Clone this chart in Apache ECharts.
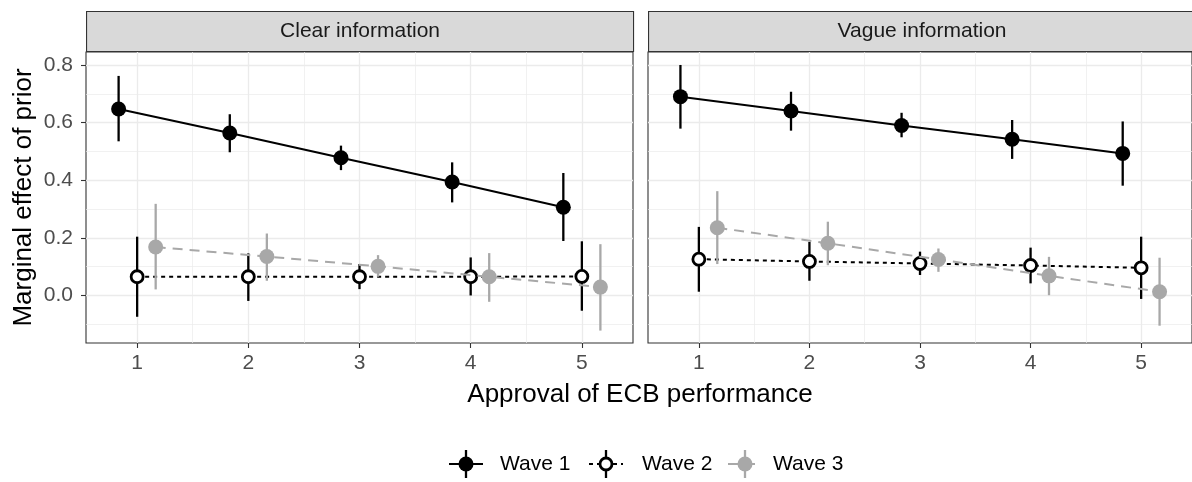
<!DOCTYPE html>
<html>
<head>
<meta charset="utf-8">
<script src="https://cdn.jsdelivr.net/npm/echarts@6/dist/echarts.min.js"></script>
<style>
  html, body { margin: 0; padding: 0; background: #fff; }
  #chart { width: 1192px; height: 482px; }
</style>
</head>
<body>
<div id="chart"></div>
<script>
// categories
const approval = [1, 2, 3, 4, 5]
const waves = ['Wave 1', 'Wave 2', 'Wave 3']
const panels = ['Clear information', 'Vague information']
const yTicks = [0, 0.2, 0.4, 0.6, 0.8]
const yMinorTicks = [-0.1, 0.1, 0.3, 0.5, 0.7]
const xMinorTicks = [1.5, 2.5, 3.5, 4.5]

// Clear information
const clearW1 = [0.647, 0.564, 0.478, 0.394, 0.306]
const clearW1Lo = [0.535, 0.497, 0.435, 0.323, 0.189]
const clearW1Hi = [0.762, 0.629, 0.520, 0.462, 0.425]
const clearW2 = [0.065, 0.065, 0.065, 0.065, 0.066]
const clearW2Lo = [-0.074, -0.019, 0.022, 0.000, -0.053]
const clearW2Hi = [0.204, 0.146, 0.109, 0.132, 0.188]
const clearW3 = [0.168, 0.135, 0.101, 0.065, 0.029]
const clearW3Lo = [0.021, 0.051, 0.065, -0.022, -0.122]
const clearW3Hi = [0.318, 0.215, 0.140, 0.147, 0.178]

// Vague information
const vagueW1 = [0.690, 0.640, 0.590, 0.542, 0.493]
const vagueW1Lo = [0.579, 0.572, 0.549, 0.474, 0.381]
const vagueW1Hi = [0.800, 0.707, 0.634, 0.609, 0.604]
const vagueW2 = [0.126, 0.118, 0.111, 0.104, 0.096]
const vagueW2Lo = [0.013, 0.051, 0.071, 0.042, -0.012]
const vagueW2Hi = [0.238, 0.186, 0.152, 0.166, 0.204]
const vagueW3 = [0.235, 0.181, 0.125, 0.068, 0.013]
const vagueW3Lo = [0.109, 0.105, 0.082, 0.001, -0.105]
const vagueW3Hi = [0.362, 0.256, 0.163, 0.134, 0.131]

const panelData = [
  [[clearW1, clearW1Lo, clearW1Hi], [clearW2, clearW2Lo, clearW2Hi], [clearW3, clearW3Lo, clearW3Hi]],
  [[vagueW1, vagueW1Lo, vagueW1Hi], [vagueW2, vagueW2Lo, vagueW2Hi], [vagueW3, vagueW3Lo, vagueW3Hi]]
]

const FONT = '"Liberation Sans", Arial, sans-serif'
const dodge = [-1 / 6, 0, 1 / 6]
const waveStyle = [
  { color: '#000', fill: '#000', size: 15, border: 0, line: 'solid', width: 2 },
  { color: '#000', fill: '#fff', size: 12, border: 2.8, line: [4, 4], width: 2 },
  { color: '#a8a8a8', fill: '#a8a8a8', size: 15, border: 0, line: [10, 7], width: 2 }
]
const gridPos = [
  { left: 86, top: 52, width: 547, height: 291 },
  { left: 648, top: 52, width: 547, height: 291 }
]
const X_MIN = 0.54
const X_MAX = 5.46
const Y_MIN = -0.165
const Y_MAX = 0.845

const chart = echarts.init(document.getElementById('chart'))

const grid = gridPos.map((g) => ({
  ...g,
  show: true,
  backgroundColor: '#fff',
  borderColor: '#333',
  borderWidth: 1.1,
  containLabel: false
}))

const xAxis = []
const yAxis = []
gridPos.forEach((g, gi) => {
  xAxis.push({
    gridIndex: gi,
    type: 'value',
    position: 'bottom',
    min: X_MIN,
    max: X_MAX,
    axisLine: { show: false, onZero: false },
    axisTick: { show: true, customValues: approval, length: 5, lineStyle: { color: '#333', width: 1.1 } },
    axisLabel: { customValues: approval, color: '#4d4d4d', fontSize: 21, fontFamily: FONT, margin: 10 },
    splitLine: { show: true, lineStyle: { color: '#ebebeb', width: 1.3 } }
  })
  xAxis.push({
    gridIndex: gi,
    type: 'value',
    position: 'bottom',
    min: X_MIN,
    max: X_MAX,
    axisLine: { show: false, onZero: false },
    axisTick: { show: false, customValues: xMinorTicks },
    axisLabel: { show: false },
    splitLine: { show: true, lineStyle: { color: '#ebebeb', width: 0.7 } }
  })
  yAxis.push({
    gridIndex: gi,
    type: 'value',
    position: 'left',
    min: Y_MIN,
    max: Y_MAX,
    axisLine: { show: false, onZero: false },
    axisTick: { show: gi === 0, customValues: yTicks, length: 5, lineStyle: { color: '#333', width: 1.1 } },
    axisLabel: {
      show: gi === 0,
      customValues: yTicks,
      formatter: (v) => v.toFixed(1),
      color: '#4d4d4d',
      fontSize: 21,
      fontFamily: FONT,
      margin: 13
    },
    splitLine: { show: true, lineStyle: { color: '#ebebeb', width: 1.3 } },
    name: gi === 0 ? 'Marginal effect of prior' : '',
    nameLocation: 'middle',
    nameRotate: 90,
    nameGap: 49,
    nameTextStyle: { color: '#000', fontSize: 26, fontFamily: FONT }
  })
  yAxis.push({
    gridIndex: gi,
    type: 'value',
    position: 'left',
    min: Y_MIN,
    max: Y_MAX,
    axisLine: { show: false, onZero: false },
    axisTick: { show: false, customValues: yMinorTicks },
    axisLabel: { show: false },
    splitLine: { show: true, lineStyle: { color: '#ebebeb', width: 0.7 } }
  })
})

const series = []
panelData.forEach((waveSets, gi) => {
  waveSets.forEach(([est, lo, hi], w) => {
    const st = waveStyle[w]
    series.push({
      type: 'custom',
      name: waves[w],
      xAxisIndex: gi * 2,
      yAxisIndex: gi * 2,
      z: 2 + w * 2,
      silent: true,
      encode: { x: 0, y: [1, 2] },
      data: approval.map((a, i) => [a + dodge[w], lo[i], hi[i]]),
      renderItem: (params, api) => {
        const p1 = api.coord([api.value(0), api.value(1)])
        const p2 = api.coord([api.value(0), api.value(2)])
        return {
          type: 'line',
          shape: { x1: p1[0], y1: p1[1], x2: p2[0], y2: p2[1] },
          style: { stroke: st.color, lineWidth: 2.3 }
        }
      }
    })
    series.push({
      type: 'line',
      name: waves[w],
      xAxisIndex: gi * 2,
      yAxisIndex: gi * 2,
      z: 3 + w * 2,
      silent: true,
      data: approval.map((a, i) => [a + dodge[w], est[i]]),
      symbol: 'circle',
      symbolSize: st.size,
      showSymbol: true,
      itemStyle: { color: st.fill, borderColor: st.color, borderWidth: st.border, opacity: 1 },
      lineStyle: { color: st.color, width: st.width, type: st.line }
    })
  })
})

// facet strips, x title, legend keys
const graphic = []
gridPos.forEach((g, gi) => {
  graphic.push({
    type: 'rect',
    left: g.left,
    top: 11,
    shape: { width: g.width, height: 40 },
    style: { fill: '#d9d9d9', stroke: '#333', lineWidth: 1.1 },
    textContent: { style: { text: panels[gi], fill: '#1a1a1a', fontSize: 21, fontFamily: FONT } },
    textConfig: { position: 'inside' }
  })
})
graphic.push({
  type: 'text',
  x: 640,
  y: 382,
  style: { text: 'Approval of ECB performance', fill: '#000', fontSize: 26, fontFamily: FONT, align: 'center', verticalAlign: 'top' }
})
const legendX = [466, 606, 745]
const legendTextX = [500, 642, 773]
const LEG_Y = 464
legendX.forEach((cx, w) => {
  const st = waveStyle[w]
  graphic.push({
    type: 'line',
    shape: { x1: cx - 17, y1: LEG_Y, x2: cx + 17, y2: LEG_Y },
    style: { stroke: st.color, lineWidth: 2, lineDash: w === 0 ? null : w === 1 ? [4, 4] : [10, 7] }
  })
  graphic.push({
    type: 'line',
    shape: { x1: cx, y1: LEG_Y - 14, x2: cx, y2: LEG_Y + 14 },
    style: { stroke: st.color, lineWidth: 2.3 }
  })
  graphic.push({
    type: 'circle',
    shape: { cx, cy: LEG_Y, r: st.size / 2 },
    style: { fill: st.fill, stroke: st.color, lineWidth: st.border }
  })
  graphic.push({
    type: 'text',
    x: legendTextX[w],
    y: LEG_Y,
    style: { text: waves[w], fill: '#000', fontSize: 21, fontFamily: FONT, verticalAlign: 'middle' }
  })
})

chart.setOption({
  animation: false,
  backgroundColor: '#fff',
  textStyle: { fontFamily: FONT },
  grid,
  xAxis,
  yAxis,
  series,
  graphic
})
</script>
</body>
</html>
